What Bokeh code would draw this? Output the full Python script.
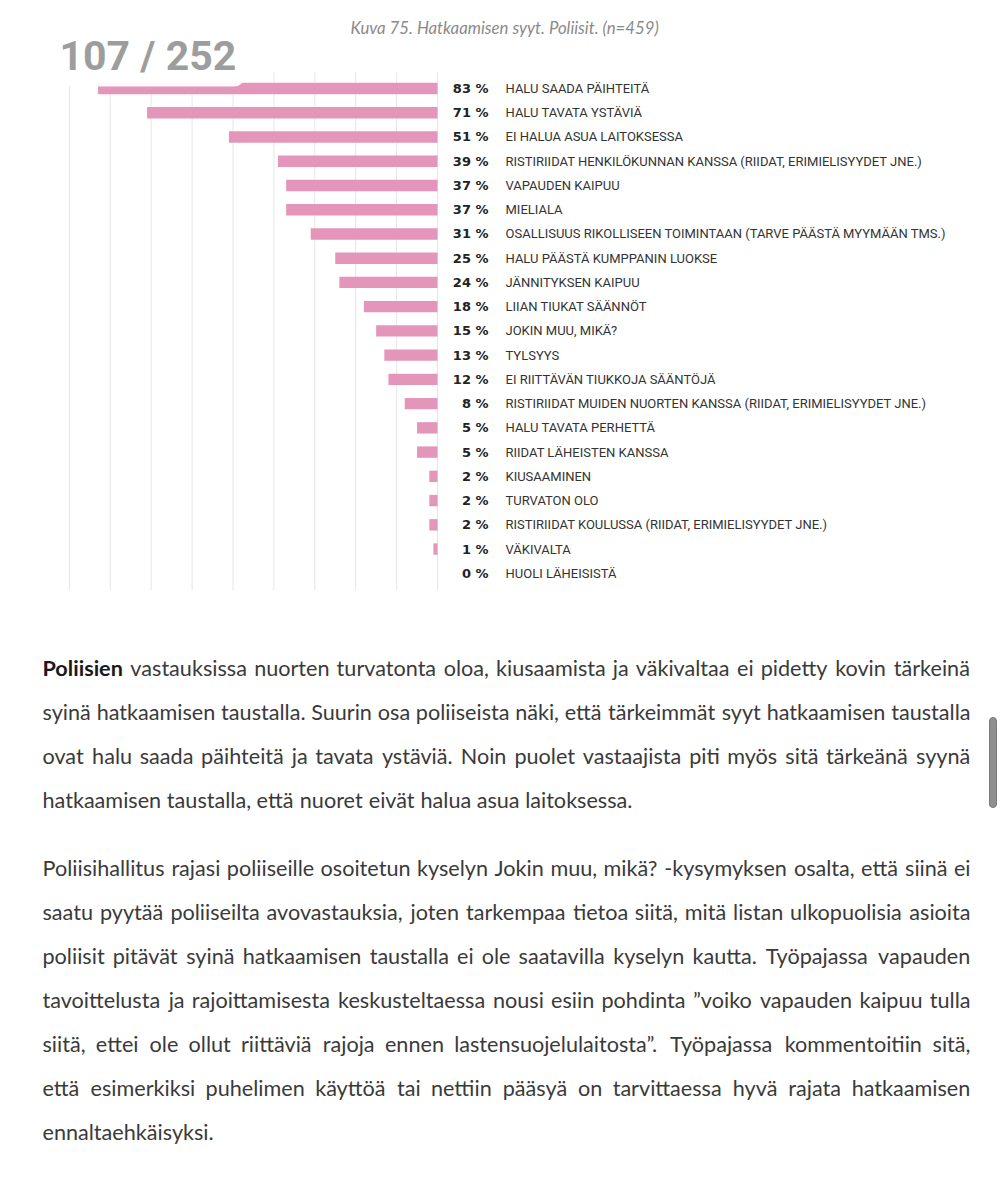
import os
import struct
import subprocess

from bokeh.plotting import figure
from bokeh.models import Range1d, ColumnDataSource
from bokeh.core.properties import value
from bokeh.embed import file_html
from bokeh.resources import INLINE

# ---------------- data ----------------
categories = [
    "HALU SAADA PÄIHTEITÄ",
    "HALU TAVATA YSTÄVIÄ",
    "EI HALUA ASUA LAITOKSESSA",
    "RISTIRIIDAT HENKILÖKUNNAN KANSSA (RIIDAT, ERIMIELISYYDET JNE.)",
    "VAPAUDEN KAIPUU",
    "MIELIALA",
    "OSALLISUUS RIKOLLISEEN TOIMINTAAN (TARVE PÄÄSTÄ MYYMÄÄN TMS.)",
    "HALU PÄÄSTÄ KUMPPANIN LUOKSE",
    "JÄNNITYKSEN KAIPUU",
    "LIIAN TIUKAT SÄÄNNÖT",
    "JOKIN MUU, MIKÄ?",
    "TYLSYYS",
    "EI RIITTÄVÄN TIUKKOJA SÄÄNTÖJÄ",
    "RISTIRIIDAT MUIDEN NUORTEN KANSSA (RIIDAT, ERIMIELISYYDET JNE.)",
    "HALU TAVATA PERHETTÄ",
    "RIIDAT LÄHEISTEN KANSSA",
    "KIUSAAMINEN",
    "TURVATON OLO",
    "RISTIRIIDAT KOULUSSA (RIIDAT, ERIMIELISYYDET JNE.)",
    "VÄKIVALTA",
    "HUOLI LÄHEISISTÄ",
]
values = [83, 71, 51, 39, 37, 37, 31, 25, 24, 18, 15, 13, 12, 8, 5, 5, 2, 2, 2, 1, 0]
grid_ticks = [0, 10, 20, 30, 40, 50, 60, 70, 80, 90]

page_counter = "107 / 252"
caption = "Kuva 75. Hatkaamisen syyt. Poliisit. (n=459)"

paragraph1 = [
    "**Poliisien** vastauksissa nuorten turvatonta oloa, kiusaamista ja väkivaltaa ei pidetty kovin tärkeinä",
    "syinä hatkaamisen taustalla. Suurin osa poliiseista näki, että tärkeimmät syyt hatkaamisen taustalla",
    "ovat halu saada päihteitä ja tavata ystäviä. Noin puolet vastaajista piti myös sitä tärkeänä syynä",
    "hatkaamisen taustalla, että nuoret eivät halua asua laitoksessa.",
]
paragraph2 = [
    "Poliisihallitus rajasi poliiseille osoitetun kyselyn Jokin muu, mikä? -kysymyksen osalta, että siinä ei",
    "saatu pyytää poliiseilta avovastauksia, joten tarkempaa tietoa siitä, mitä listan ulkopuolisia asioita",
    "poliisit pitävät syinä hatkaamisen taustalla ei ole saatavilla kyselyn kautta. Työpajassa vapauden",
    "tavoittelusta ja rajoittamisesta keskusteltaessa nousi esiin pohdinta ”voiko vapauden kaipuu tulla",
    "siitä, ettei ole ollut riittäviä rajoja ennen lastensuojelulaitosta”. Työpajassa kommentoitiin sitä,",
    "että esimerkiksi puhelimen käyttöä tai nettiin pääsyä on tarvittaessa hyvä rajata hatkaamisen",
    "ennaltaehkäisyksi.",
]

# ---------------- layout constants (page pixels) ----------------
W, H = 1000, 1196
ZERO_PX = 437.0      # page x of 0 %
PX_PER_PCT = 4.09
ROW0_PX = 88.0       # page y of first row centre
ROW_PX = 24.24
TEXT_X0, TEXT_X1 = 42.0, 970.0
LAST_LINE_PX = 590.0   # rendered width of the last line of paragraph 1

BAR_COLOR = "#e396b9"
TEXT_FONT = "Lato"

# ---------------- font measuring (for justified text) ----------------
def find_font(fname, pattern):
    for root in ["/usr/share/fonts", "/usr/local/share/fonts",
                 os.path.expanduser("~/.fonts"), os.path.expanduser("~/.local/share/fonts")]:
        if not os.path.isdir(root):
            continue
        for dp, dn, fn in os.walk(root):
            if fname in fn:
                return os.path.join(dp, fname)
    try:
        out = subprocess.run(["fc-match", "-f", "%{file}", pattern],
                             capture_output=True, text=True, timeout=5).stdout.strip()
        if out and os.path.isfile(out):
            return out
    except Exception:
        pass
    return None


def load_metrics(path):
    try:
        data = open(path, "rb").read()
        ntab = struct.unpack(">H", data[4:6])[0]
        tabs = {}
        for i in range(ntab):
            tag, cs, off, ln = struct.unpack(">4sIII", data[12 + 16 * i:28 + 16 * i])
            tabs[tag.decode("latin1")] = off
        head = tabs["head"]
        upm = struct.unpack(">H", data[head + 18:head + 20])[0]
        hhea = tabs["hhea"]
        nhm = struct.unpack(">H", data[hhea + 34:hhea + 36])[0]
        hm = tabs["hmtx"]
        adv = [struct.unpack(">H", data[hm + 4 * i:hm + 4 * i + 2])[0] for i in range(nhm)]
        cm = tabs["cmap"]
        nsub = struct.unpack(">H", data[cm + 2:cm + 4])[0]
        sub = None
        for i in range(nsub):
            pid, eid, off = struct.unpack(">HHI", data[cm + 4 + 8 * i:cm + 12 + 8 * i])
            fmt = struct.unpack(">H", data[cm + off:cm + off + 2])[0]
            if fmt == 4 and (pid == 3 or pid == 0):
                sub = cm + off
                break
        segx2 = struct.unpack(">H", data[sub + 6:sub + 8])[0]
        n = segx2 // 2
        ends = struct.unpack(">%dH" % n, data[sub + 14:sub + 14 + segx2])
        starts = struct.unpack(">%dH" % n, data[sub + 16 + segx2:sub + 16 + 2 * segx2])
        deltas = struct.unpack(">%dh" % n, data[sub + 16 + 2 * segx2:sub + 16 + 3 * segx2])
        rpos = sub + 16 + 3 * segx2
        roffs = struct.unpack(">%dH" % n, data[rpos:rpos + segx2])

        def gid(c):
            for i in range(n):
                if ends[i] >= c:
                    if starts[i] > c:
                        return 0
                    if roffs[i] == 0:
                        return (c + deltas[i]) & 0xFFFF
                    addr = rpos + 2 * i + roffs[i] + 2 * (c - starts[i])
                    g = struct.unpack(">H", data[addr:addr + 2])[0]
                    return (g + deltas[i]) & 0xFFFF if g else 0
            return 0

        cache = {}

        def width(s):
            t = 0
            for ch in s:
                if ch not in cache:
                    g = gid(ord(ch))
                    cache[ch] = adv[g] if g < nhm else adv[-1]
                t += cache[ch]
            return t / upm
        return width
    except Exception:
        return None


reg_path = find_font("Lato-Regular.ttf", "Lato")
bold_path = find_font("Lato-Bold.ttf", "Lato:bold")
w_reg = load_metrics(reg_path) if reg_path else None
w_bold = load_metrics(bold_path) if bold_path else None
if w_reg is None:
    w_reg = lambda s: 0.5 * len(s)
if w_bold is None:
    w_bold = lambda s: 0.54 * len(s)


def parse_words(line):
    out = []
    for w in line.split(" "):
        if w.startswith("**") and w.endswith("**"):
            out.append((w[2:-2], True))
        else:
            out.append((w, False))
    return out


def words_width(ws):
    return sum((w_bold if b else w_reg)(w) for w, b in ws)


# font size: calibrated on the last (non-justified) line of paragraph 1,
# limited so that every justified line keeps a minimum word gap
width_avail = TEXT_X1 - TEXT_X0
last_ws = parse_words(paragraph1[-1])
para_size = LAST_LINE_PX / (words_width(last_ws) + w_reg(" ") * (len(last_ws) - 1))
for lines in (paragraph1, paragraph2):
    for ln in lines[:-1]:
        ws = parse_words(ln)
        lim = width_avail / (words_width(ws) + 0.2 * (len(ws) - 1))
        para_size = min(para_size, lim)
para_size = max(14.0, min(22.0, para_size))


def layout_paragraph(lines, y0, step, size):
    reg = dict(x=[], y=[], t=[])
    bold = dict(x=[], y=[], t=[])
    for i, ln in enumerate(lines):
        ws = parse_words(ln)
        wid = [(w_bold if b else w_reg)(w) * size for w, b in ws]
        y = y0 + i * step
        if i < len(lines) - 1 and len(ws) > 1:
            gap = (width_avail - sum(wid)) / (len(ws) - 1)
        else:
            gap = w_reg(" ") * size
        x = TEXT_X0
        for (w, b), ww in zip(ws, wid):
            d = bold if b else reg
            d["x"].append(x)
            d["y"].append(y)
            d["t"].append(w)
            x += ww + gap
    return reg, bold


# ---------------- figure ----------------
p = figure(width=W, height=H, x_range=Range1d(0, W), y_range=Range1d(H, 0),
           output_backend="svg", toolbar_location=None, min_border=0, title=None,
           x_axis_location=None, y_axis_location=None)
p.outline_line_color = None
p.grid.visible = False
p.background_fill_color = "white"
p.border_fill_color = "white"

p.extra_x_ranges = {"pct": Range1d(start=ZERO_PX / PX_PER_PCT,
                                   end=(ZERO_PX - W) / PX_PER_PCT)}
p.extra_y_ranges = {"row": Range1d(start=(H - ROW0_PX) / ROW_PX,
                                   end=(0 - ROW0_PX) / ROW_PX)}

rows = list(range(len(categories)))
src = ColumnDataSource(dict(
    row=rows,
    val=values,
    cat=categories,
    lab=[f"{v} %" for v in values],
))

# gridlines
n = len(categories)
p.segment(x0=grid_ticks, x1=grid_ticks, y0=[-0.66] * len(grid_ticks), y1=[n - 0.3] * len(grid_ticks),
          x_range_name="pct", y_range_name="row", line_color="#e6e6e6", line_width=1)

# bars
p.hbar(y="row", left=0, right="val", height=0.47, source=src,
       x_range_name="pct", y_range_name="row", fill_color=BAR_COLOR, line_color=None)

# percent labels and category labels
p.text(x=0, y="row", text="lab", source=src, x_range_name="pct", y_range_name="row",
       x_offset=51, text_align="right", text_baseline="middle",
       text_font=value("DejaVu Sans"), text_font_style="bold", text_font_size="13px",
       text_color="#222222")
p.text(x=0, y="row", text="cat", source=src, x_range_name="pct", y_range_name="row",
       x_offset=68, text_align="left", text_baseline="middle",
       text_font=value("Roboto"), text_font_size="13px", text_color="#333333")

# translucent page-counter box (viewer overlay)
p.quad(left=[50], right=[244], top=[0], bottom=[86], fill_color="white", fill_alpha=0.93,
       line_color=None, border_radius=10)
p.text(x=[59], y=[55], text=[page_counter], text_align="left", text_baseline="alphabetic",
       text_font=value("Roboto"), text_font_style="bold", text_font_size="41px",
       text_color="#9d9d9d")

# caption
p.text(x=[350], y=[27], text=[caption], text_align="left", text_baseline="alphabetic",
       text_font=value(TEXT_FONT), text_font_style="italic", text_font_size="16.8px",
       text_color="#8a8a8a")

# paragraphs (justified)
fs = "%.2fpx" % para_size
for lines, y0 in ((paragraph1, 667.5), (paragraph2, 867.5)):
    reg, bold = layout_paragraph(lines, y0, 44.0, para_size)
    p.text(x=reg["x"], y=reg["y"], text=reg["t"], text_align="left", text_baseline="alphabetic",
           text_font=value(TEXT_FONT), text_font_size=fs, text_color="#3a3a3a")
    if bold["t"]:
        p.text(x=bold["x"], y=bold["y"], text=bold["t"], text_align="left",
               text_baseline="alphabetic", text_font=value(TEXT_FONT), text_font_style="bold",
               text_font_size=fs, text_color="#1a1a1a")

# viewer scrollbar
p.quad(left=[989], right=[996], top=[717], bottom=[807], fill_color="#8f8f8f",
       line_color="#7a7a7a", border_radius=4)

open("out.html", "w").write(file_html(p, INLINE))
